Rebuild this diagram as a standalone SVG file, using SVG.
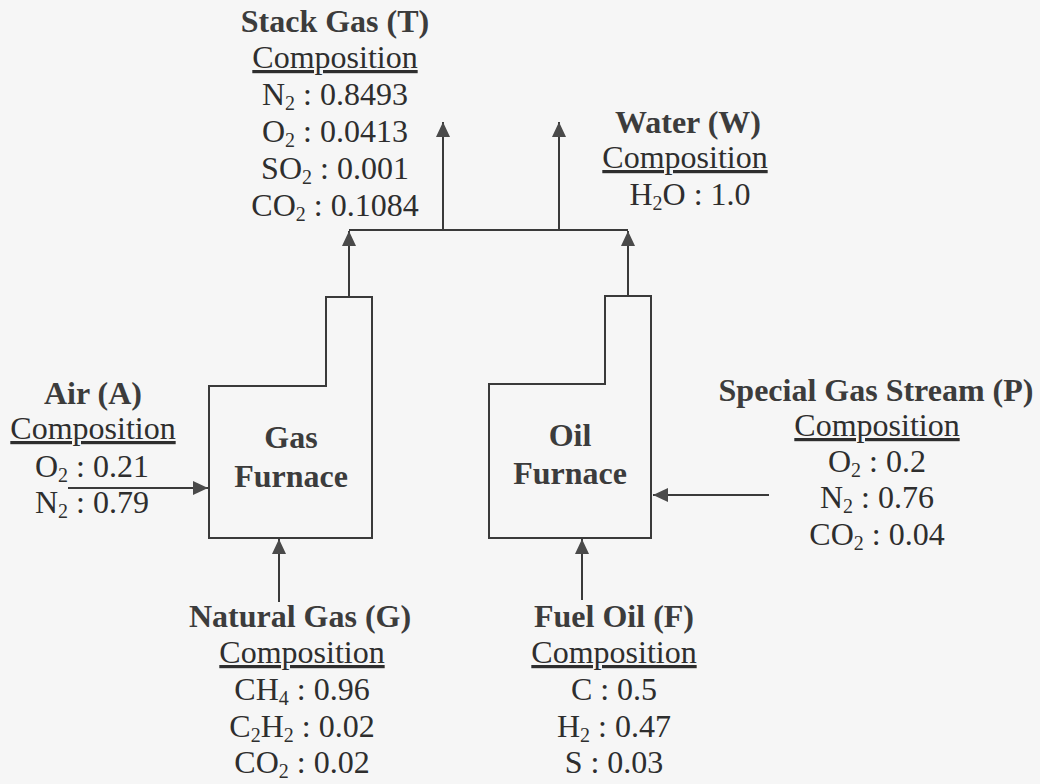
<svg xmlns="http://www.w3.org/2000/svg" width="1040" height="784" viewBox="0 0 1040 784" font-family="'Liberation Serif', Tinos, 'Times New Roman', Times, 'DejaVu Serif', serif">
  <style>
    text { font-family: "Liberation Serif", Tinos, "Times New Roman", Times, "DejaVu Serif", serif; font-size: 32px; fill: #2e2e2e; text-anchor: middle; }
    .b { font-weight: bold; fill: #3c3c3c; }
    .u { text-decoration: underline; }
    .s { font-size: 20px; }
    .shape { fill: none; stroke: #3a3a3a; stroke-width: 2; }
    .conn { fill: none; stroke: #3a3a3a; stroke-width: 2; }
  </style>
  <defs>
    <marker id="arr" markerUnits="userSpaceOnUse" markerWidth="16" markerHeight="14" refX="15" refY="7" orient="auto">
      <path d="M0,0 L15,7 L0,14 Z" fill="#4a4a4a"/>
    </marker>
  </defs>
  <rect width="1040" height="784" fill="#f6f6f6"/>

  <g id="connectors">
    <path class="conn" d="M68,488 L208,488" marker-end="url(#arr)"/>
    <path class="conn" d="M279,602 L279,539" marker-end="url(#arr)"/>
    <path class="conn" d="M582,600 L582,539" marker-end="url(#arr)"/>
    <path class="conn" d="M769,495 L653,495" marker-end="url(#arr)"/>
    <path class="conn" d="M349,297 L349,231" marker-end="url(#arr)"/>
    <path class="conn" d="M628,296 L628,231" marker-end="url(#arr)"/>
    <path class="conn" d="M349,230 L628,230"/>
    <path class="conn" d="M443,230 L443,122" marker-end="url(#arr)"/>
    <path class="conn" d="M559,230 L559,122" marker-end="url(#arr)"/>
  </g>

  <g id="gas-furnace">
    <path class="shape" d="M209,386 L326,386 L326,297 L372,297 L372,538 L209,538 Z"/>
    <text class="b" x="291" y="448">Gas</text>
    <text class="b" x="291" y="487">Furnace</text>
  </g>

  <g id="oil-furnace">
    <path class="shape" d="M489,384 L605,384 L605,296 L651,296 L651,538 L489,538 Z"/>
    <text class="b" x="570" y="446">Oil</text>
    <text class="b" x="570" y="484">Furnace</text>
  </g>

  <g id="stack-gas">
    <text class="b" x="335" y="32">Stack Gas (T)</text>
    <text class="u" x="335" y="68">Composition</text>
    <text x="335" y="105">N<tspan class="s" dy="5">2</tspan><tspan dy="-5"> : 0.8493</tspan></text>
    <text x="335" y="142">O<tspan class="s" dy="5">2</tspan><tspan dy="-5"> : 0.0413</tspan></text>
    <text x="335" y="179">SO<tspan class="s" dy="5">2</tspan><tspan dy="-5"> : 0.001</tspan></text>
    <text x="335" y="216">CO<tspan class="s" dy="5">2</tspan><tspan dy="-5"> : 0.1084</tspan></text>
  </g>

  <g id="water">
    <text class="b" x="688" y="133">Water (W)</text>
    <text class="u" x="685" y="168">Composition</text>
    <text x="690" y="205">H<tspan class="s" dy="5">2</tspan><tspan dy="-5">O : 1.0</tspan></text>
  </g>

  <g id="air">
    <text class="b" x="93" y="404">Air (A)</text>
    <text class="u" x="93" y="439">Composition</text>
    <text x="92" y="477">O<tspan class="s" dy="5">2</tspan><tspan dy="-5"> : 0.21</tspan></text>
    <text x="92" y="513">N<tspan class="s" dy="5">2</tspan><tspan dy="-5"> : 0.79</tspan></text>
  </g>

  <g id="special-gas">
    <text class="b" x="876" y="401">Special Gas Stream (P)</text>
    <text class="u" x="877" y="436">Composition</text>
    <text x="877" y="472">O<tspan class="s" dy="5">2</tspan><tspan dy="-5"> : 0.2</tspan></text>
    <text x="877" y="508">N<tspan class="s" dy="5">2</tspan><tspan dy="-5"> : 0.76</tspan></text>
    <text x="877" y="545">CO<tspan class="s" dy="5">2</tspan><tspan dy="-5"> : 0.04</tspan></text>
  </g>

  <g id="natural-gas">
    <text class="b" x="300" y="627">Natural Gas (G)</text>
    <text class="u" x="302" y="663">Composition</text>
    <text x="302" y="700">CH<tspan class="s" dy="5">4</tspan><tspan dy="-5"> : 0.96</tspan></text>
    <text x="302" y="737">C<tspan class="s" dy="5">2</tspan><tspan dy="-5">H</tspan><tspan class="s" dy="5">2</tspan><tspan dy="-5"> : 0.02</tspan></text>
    <text x="302" y="773">CO<tspan class="s" dy="5">2</tspan><tspan dy="-5"> : 0.02</tspan></text>
  </g>

  <g id="fuel-oil">
    <text class="b" x="614" y="627">Fuel Oil (F)</text>
    <text class="u" x="614" y="663">Composition</text>
    <text x="614" y="700">C : 0.5</text>
    <text x="614" y="737">H<tspan class="s" dy="5">2</tspan><tspan dy="-5"> : 0.47</tspan></text>
    <text x="614" y="773">S : 0.03</text>
  </g>
</svg>
